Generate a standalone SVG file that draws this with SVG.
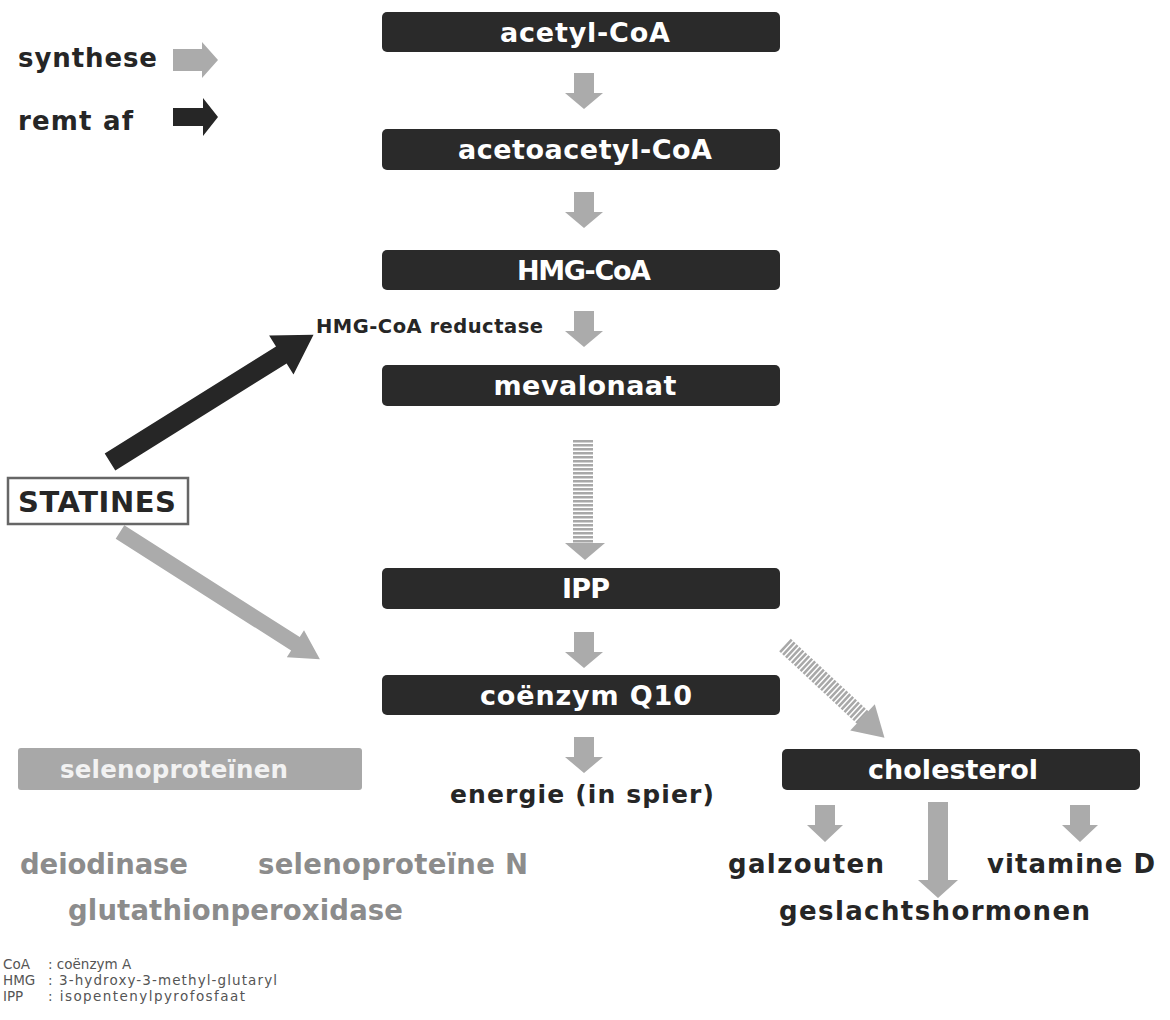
<svg xmlns="http://www.w3.org/2000/svg" width="1170" height="1020" viewBox="0 0 1170 1020">
<style>
.box{fill:#2a2a2a}
.bt{font-family:"DejaVu Sans",sans-serif;font-weight:bold;font-size:27px;fill:#ffffff;text-anchor:middle}
.lbl{font-family:"DejaVu Sans",sans-serif;font-weight:bold;fill:#262626}
.gry{font-family:"DejaVu Sans",sans-serif;font-weight:bold;font-size:27.5px;fill:#8c8c8c}
.fn{font-family:"DejaVu Sans",sans-serif;font-size:13.5px;fill:#555}
.ga{fill:#ababab}
.ba{fill:#262626}
.stripe{stroke:#a8a8a8;stroke-dasharray:2.5 1.5;fill:none}
</style>
<defs>
<path id="dn" d="M-10,0 h20 v20 h9 l-19,16 l-19,-16 h9 z"/>
</defs>
<rect width="1170" height="1020" fill="#ffffff"/>

<g id="legend">
<text class="lbl" x="18" y="67" font-size="26" textLength="139">synthese</text>
<path class="ga" d="M173,49 h29 v-7 l16,18 l-16,18 v-7 h-29 z"/>
<text class="lbl" x="18" y="130" font-size="26" textLength="115">remt af</text>
<path class="ba" d="M173,108 h30 v-10 l15,19 l-15,19 v-10 h-30 z"/>
</g>

<g id="connectors">
<use href="#dn" class="ga" x="584" y="73"/>
<use href="#dn" class="ga" x="584" y="192"/>
<use href="#dn" class="ga" x="584" y="311"/>
<line class="stripe" x1="583" y1="440" x2="583" y2="544" stroke-width="20"/>
<path class="ga" d="M565,543 h40 l-20,17 z"/>
<use href="#dn" class="ga" x="584" y="632"/>
<use href="#dn" class="ga" x="584" y="737"/>
<g transform="translate(785,645) rotate(43)">
<line class="stripe" x1="0" y1="0" x2="108" y2="0" stroke-width="17"/>
<path class="ga" d="M106,-18 L136,0 L106,18 z"/>
</g>
<g transform="translate(110,462) rotate(-32)">
<path class="ba" d="M0,-10 H202 V-23 L240,0 L202,23 V10 H0 z"/>
</g>
<g transform="translate(120,532) rotate(32.5)">
<path class="ga" d="M0,-8 H208 V-16 L237,0 L208,16 V8 H0 z"/>
</g>
<path class="ga" d="M815,805 h20 v20 h8 l-18,17 l-18,-17 h8 z"/>
<path class="ga" d="M928,802 h20 v78 h10 l-20,18 l-20,-18 h10 z"/>
<path class="ga" d="M1070,805 h20 v20 h8 l-18,17 l-18,-17 h8 z"/>
</g>

<g id="acetyl-coa"><rect class="box" x="382" y="12" width="398" height="40" rx="5"/><text class="bt" x="585" y="42" textLength="170">acetyl-CoA</text></g>
<g id="acetoacetyl-coa"><rect class="box" x="382" y="129" width="398" height="41" rx="5"/><text class="bt" x="585" y="159" textLength="254">acetoacetyl-CoA</text></g>
<g id="hmg-coa"><rect class="box" x="382" y="250" width="398" height="40" rx="5"/><text class="bt" x="584" y="280" font-size="25" textLength="134">HMG-CoA</text></g>
<g id="hmg-coa-reductase"><text class="lbl" x="316" y="333" font-size="19.5" textLength="227">HMG-CoA reductase</text></g>
<g id="mevalonaat"><rect class="box" x="382" y="365" width="398" height="41" rx="5"/><text class="bt" x="585" y="395" textLength="183">mevalonaat</text></g>
<g id="ipp"><rect class="box" x="382" y="568" width="398" height="41" rx="5"/><text class="bt" x="586" y="598" textLength="48">IPP</text></g>
<g id="coenzym-q10"><rect class="box" x="382" y="675" width="398" height="40" rx="5"/><text class="bt" x="586" y="705" textLength="212">coënzym Q10</text></g>
<g id="cholesterol"><rect class="box" x="782" y="749" width="358" height="41" rx="5"/><text class="bt" x="953" y="779" textLength="170">cholesterol</text></g>

<g id="statines"><rect x="8" y="478" width="180" height="46" fill="#ffffff" stroke="#666" stroke-width="2.5"/><text class="lbl" x="18" y="512" font-size="29" textLength="158" fill="#222">STATINES</text></g>

<g id="selenoproteinen"><rect x="18" y="748" width="344" height="42" rx="3" fill="#a8a8a8"/><text x="60" y="778" font-family="DejaVu Sans,sans-serif" font-weight="bold" font-size="24.5" fill="#f2f2f2" textLength="228">selenoproteïnen</text></g>

<g id="energie"><text class="lbl" x="450" y="803" font-size="25" textLength="264">energie (in spier)</text></g>

<g id="deiodinase"><text class="gry" x="20" y="874" textLength="168">deiodinase</text></g>
<g id="selenoproteine-n"><text class="gry" x="258" y="874" textLength="270">selenoproteïne N</text></g>
<g id="glutathionperoxidase"><text class="gry" x="68" y="920" textLength="335">glutathionperoxidase</text></g>

<g id="galzouten"><text class="lbl" x="728" y="873" font-size="26" textLength="156">galzouten</text></g>
<g id="vitamine-d"><text class="lbl" x="987" y="873" font-size="26" textLength="168">vitamine D</text></g>
<g id="geslachtshormonen"><text class="lbl" x="779" y="920" font-size="26" textLength="311">geslachtshormonen</text></g>

<g id="footnote">
<text class="fn" x="3" y="969">CoA</text><text class="fn" x="48" y="969">: coënzym A</text>
<text class="fn" x="3" y="985">HMG</text><text class="fn" x="48" y="985" textLength="229">: 3-hydroxy-3-methyl-glutaryl</text>
<text class="fn" x="3" y="1001">IPP</text><text class="fn" x="48" y="1001" textLength="197">: isopentenylpyrofosfaat</text>
</g>
</svg>
